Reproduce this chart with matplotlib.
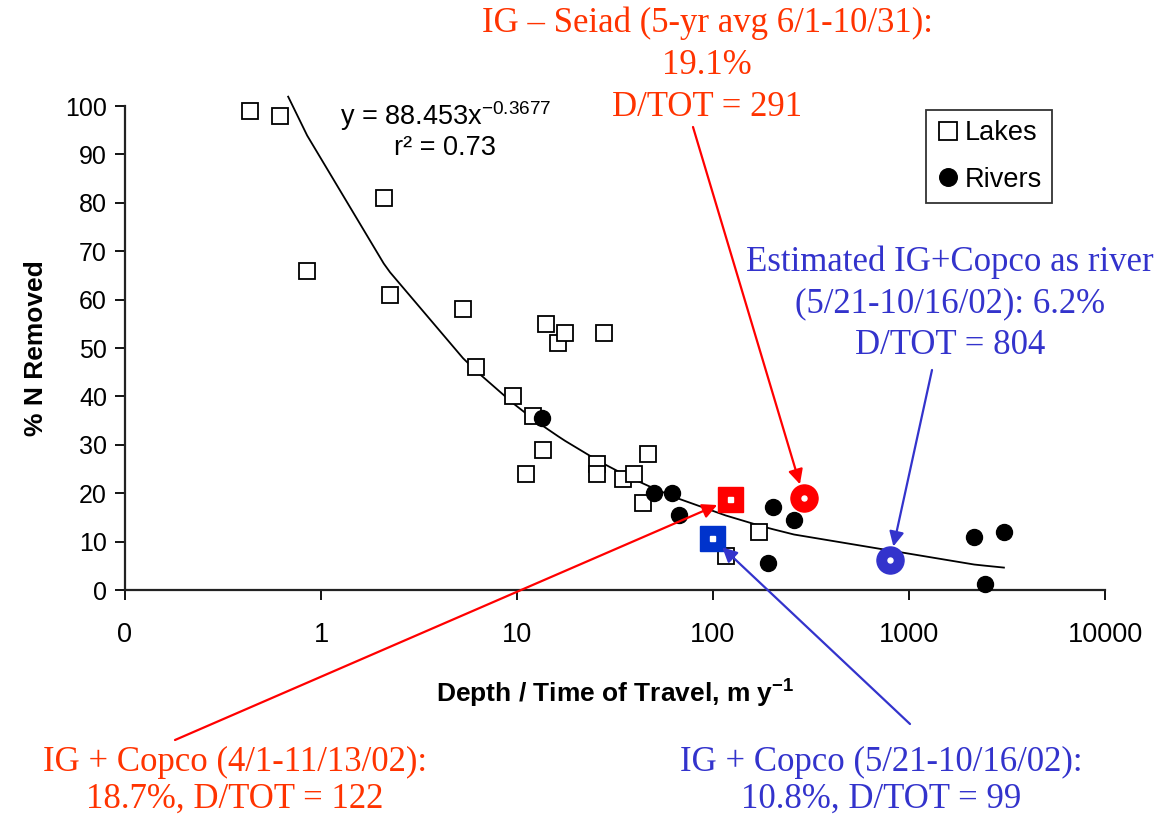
import numpy as np
import matplotlib.pyplot as plt

plt.rcParams['font.family'] = ['Liberation Sans', 'DejaVu Sans']
plt.rcParams['mathtext.fontset'] = 'custom'
plt.rcParams['mathtext.rm'] = 'Liberation Sans'
plt.rcParams['mathtext.bf'] = 'Liberation Sans:bold'

# Lake and river observations (depth / time of travel vs % N removed)
lake_x = [0.435, 0.62, 0.85, 2.09, 2.25, 5.3, 6.18, 9.55, 11.1, 12.1, 13.6, 14.1,
          16.2, 17.6, 25.6, 25.6, 27.8, 34.8, 39.5, 44.0, 46.6, 116, 172]
lake_y = [99, 98, 66, 81, 61, 58, 46, 40, 24, 36, 29, 55,
          51, 53, 26, 24, 53, 23, 24, 18, 28, 7, 12]
river_x = [13.4, 50, 61.8, 67.1, 191, 202, 259, 2150, 2440, 3050]
river_y = [35.5, 20, 20, 15.4, 5.6, 17.2, 14.5, 11, 1.2, 12]

# Power-law fit stated on the chart
fit_a = 88.453
fit_b = -0.3677
fit_r2 = 0.73
fit_start = 0.68

# Klamath reach estimates
callout_dtot = [122, 99, 291, 804]
callout_pct = [18.7, 10.8, 19.1, 6.2]
callout_marker = ['s', 's', 'o', 'o']
callout_color = ['#FF0000', '#0033CC', '#FF0000', '#3333CC']
text_red = '#FF3300'
text_blue = '#3333CC'

x_ticks = [0.1, 1, 10, 100, 1000, 10000]
x_tick_labels = ['0', '1', '10', '100', '1000', '10000']

W, H = 1171, 817
fig = plt.figure(figsize=(W / 100, H / 100), dpi=100)
ax = fig.add_axes([125 / W, 1 - 590 / H, 980 / W, 484 / H])

ax.set_xscale('log')
ax.set_xlim(0.1, 10000)
ax.set_ylim(0, 100)

# trend line evaluated at the observed x positions
nodes = np.array(sorted([fit_start] + [v for v in lake_x + river_x if v > fit_start]))
ax.plot(nodes, fit_a * nodes ** fit_b, color='black', lw=1.3, clip_on=False, zorder=2)

ax.plot(lake_x, lake_y, 's', ms=11.5, mfc='white', mec='black', mew=1.3,
        label='Lakes', zorder=3, clip_on=False)
ax.plot(river_x, river_y, 'o', ms=11.5, mfc='black', mec='black',
        label='Rivers', zorder=4, clip_on=False)

for x, y, m, c in zip(callout_dtot, callout_pct, callout_marker, callout_color):
    size = 18 if m == 's' else 19.5
    ax.plot(x, y, m, ms=size, mfc=c, mec=c, zorder=6)
    ax.plot(x, y, m, ms=3.6, mfc='white', mec='white', zorder=7)

ax.set_xticks(x_ticks)
ax.set_xticklabels(x_tick_labels)
ax.xaxis.set_minor_locator(plt.NullLocator())
ax.set_yticks(range(0, 101, 10))
ax.tick_params(axis='x', labelsize=19.5, length=7, width=1.3, direction='out', pad=16)
ax.tick_params(axis='y', labelsize=18, length=7, width=1.3, direction='out', pad=6)
for side in ['top', 'right']:
    ax.spines[side].set_visible(False)
for side in ['left', 'bottom']:
    ax.spines[side].set_linewidth(1.6)
    ax.spines[side].set_color('#222222')

ax.set_ylabel('% N Removed', fontsize=19, fontweight='bold', labelpad=12)
ax.set_xlabel(r'Depth / Time of Travel, m y$^{\mathbf{-1}}$', fontsize=19,
              fontweight='bold', labelpad=20)

fig.text(340 / W, 1 - 116 / H, r'y = %.3fx$^{\mathregular{%.4f}}$' % (fit_a, fit_b),
         fontsize=19.5, ha='left', va='center')
fig.text(445 / W, 1 - 148 / H, 'r² = %.2f' % fit_r2, fontsize=19.5,
         ha='center', va='center')

leg = ax.legend(loc='upper right', bbox_to_anchor=((1052 - 125) / 980, (590 - 110) / 484),
                fontsize=19.5, frameon=True, fancybox=False, handletextpad=0.15,
                borderpad=0.38, labelspacing=0.75, handlelength=0.9, borderaxespad=0,
                markerscale=1.1)
leg.get_frame().set_edgecolor('black')
leg.get_frame().set_linewidth(1.3)

# callout text, one entry per line
labels = [
    ['IG + Copco (4/1-11/13/02):',
     '%.1f%%, D/TOT = %d' % (callout_pct[0], callout_dtot[0])],
    ['IG + Copco (5/21-10/16/02):',
     '%.1f%%, D/TOT = %d' % (callout_pct[1], callout_dtot[1])],
    ['IG \u2013 Seiad (5-yr avg 6/1-10/31):',
     '%.1f%%' % callout_pct[2],
     'D/TOT = %d' % callout_dtot[2]],
    ['Estimated IG+Copco as river',
     '(5/21-10/16/02): %.1f%%' % callout_pct[3],
     'D/TOT = %d' % callout_dtot[3]],
]
text_pos = [(235, 762), (881, 762), (707, 23), (950, 262)]
text_step = [37, 37, 42, 42]
text_col = [text_red, text_blue, text_red, text_blue]
arrow_start = [(175, 740), (910, 724), (693, 127), (932, 370)]
arrow_col = ['#FF0000', '#3333CC', '#FF0000', '#3333CC']

for i in range(4):
    tx, ty = text_pos[i]
    for k, line in enumerate(labels[i]):
        fig.text(tx / W, 1 - (ty + k * text_step[i]) / H, line, fontsize=25,
                 family='Liberation Serif', color=text_col[i],
                 ha='center', va='center')
    sx, sy = arrow_start[i]
    ax.annotate('', xy=(callout_dtot[i], callout_pct[i]), xycoords='data',
                xytext=(sx / W, 1 - sy / H), textcoords='figure fraction',
                arrowprops=dict(arrowstyle='-|>', color=arrow_col[i], lw=1.6,
                                mutation_scale=22, shrinkA=0, shrinkB=10),
                annotation_clip=False, zorder=8)

fig.savefig('out.png', dpi=100)
